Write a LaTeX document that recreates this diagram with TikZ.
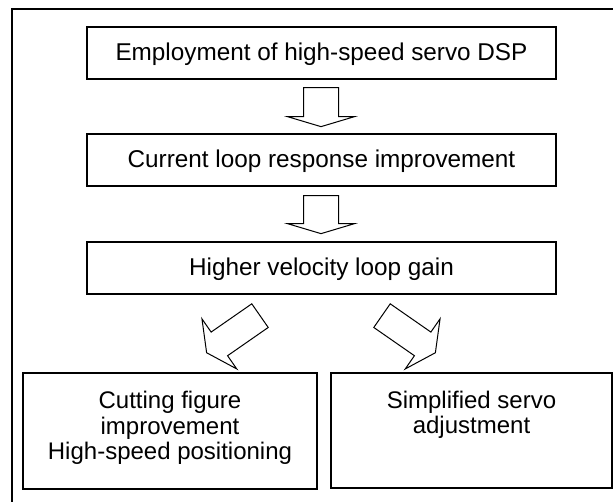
\documentclass[tikz,border=0pt]{standalone}
\usepackage{fontspec}
\setmainfont{Liberation Sans}
\usetikzlibrary{calc}

\tikzset{
  box/.style={draw, line width=1.3pt, inner sep=0pt, align=center,
              font=\fontsize{24.3}{25.5}\selectfont},
  stagebox/.style={box, minimum width=469pt, minimum height=52pt,
                   text height=16pt, text depth=0pt},
  lbl/.style={inner sep=0pt, align=center, anchor=north,
              font=\fontsize{24}{25.5}\selectfont},
  blockarr/.style={draw, line width=1pt, line join=miter, fill=white},
  frameline/.style={line width=2pt}
}

% hollow block arrow: #1 start point, #2 direction angle, #3 length,
% #4 shaft half width, #5 head half width, #6 head length
\newcommand\blockarrow[6]{%
  \begin{scope}[shift={#1}, rotate=#2]
    \draw[blockarr] (0,-#4) -- ({#3-#6},-#4) -- ({#3-#6},-#5) -- (#3,0)
      -- ({#3-#6},#5) -- ({#3-#6},#4) -- (0,#4) -- cycle;
  \end{scope}}

\begin{document}
\begin{tikzpicture}[x=1pt, y=1pt]
  \useasboundingbox (0,0) rectangle (613,502);

  % outer frame (top and left edges)
  \draw[frameline] (613,493) -- (12,493) -- (12,0);

  % stage boxes
  \node[stagebox] (dsp)  at (321.5,449) {Employment of high-speed servo DSP};
  \node[stagebox] (cur)  at (321.5,342) {Current loop response improvement};
  \node[stagebox] (vel)  at (321.5,234) {Higher velocity loop gain};

  % result boxes
  \node[box, minimum width=294pt, minimum height=116pt] (cut) at (170,71) {};
  \node[box, minimum width=281pt, minimum height=115pt] (adj) at (471.5,71.5) {};
  \node[lbl] (cuttxt) at ($(cut.north)+(0,-19)$)
    {Cutting figure\\improvement\\High-speed positioning};
  \node[lbl] (adjtxt) at ($(adj.north)+(0,-18.5)$)
    {Simplified servo\\adjustment};

  % downward arrows between stages
  \blockarrow{($(dsp.south)+(-0.5,-8)$)}{-90}{39}{17.5}{33.5}{10}
  \blockarrow{($(cur.south)+(-0.5,-9)$)}{-90}{38}{17.5}{33.5}{10}

  % diagonal arrows to the two results
  \blockarrow{($(vel.south)+(-61.5,-21)$)}{214.8}{65}{14.4}{30.5}{15.5}
  \blockarrow{($(vel.south)+(60.5,-21)$)}{-34.8}{65}{14.4}{30.5}{15.5}
\end{tikzpicture}
\end{document}
